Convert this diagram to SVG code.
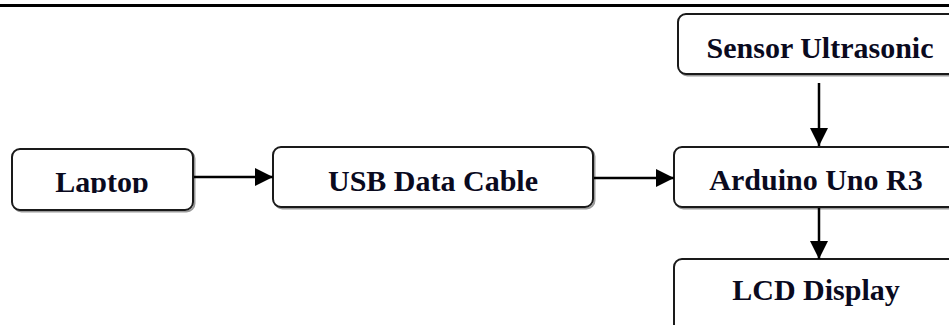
<svg xmlns="http://www.w3.org/2000/svg" width="949" height="325" viewBox="0 0 949 325">
<style>
.box{fill:#fff;stroke:#1a1a1a;stroke-width:2}
.shadow{fill:none;stroke:#9a9a9a;stroke-width:2}
.lbl{font-family:'Liberation Serif','DejaVu Serif',serif;font-weight:700;font-size:30px;fill:#0a0a1e;text-anchor:middle}
.conn{stroke:#000;stroke-width:2.5;fill:none}
</style>
<defs>
<marker id="ah" markerWidth="18" markerHeight="18" viewBox="0 0 18 18" refX="18" refY="9" orient="auto" markerUnits="userSpaceOnUse">
<path d="M0,0 L18,9 L0,18 Z" fill="#000"/>
</marker>
<clipPath id="lapclip"><rect x="0" y="140" width="260" height="53"/></clipPath>
</defs>
<rect x="0" y="4" width="949" height="3" fill="#000"/>
<g id="laptop">
<rect class="shadow" x="13.5" y="150.5" width="181" height="61" rx="8"/>
<rect class="box" x="12" y="149" width="181" height="61" rx="8"/>
<text class="lbl" x="102" y="192" clip-path="url(#lapclip)" font-family="Liberation Serif, serif">Laptop</text>
</g>
<g id="usb">
<rect class="shadow" x="274.5" y="148.5" width="320" height="60" rx="8"/>
<rect class="box" x="273" y="147" width="320" height="60" rx="8"/>
<text class="lbl" x="433" y="191" font-family="Liberation Serif, serif">USB Data Cable</text>
</g>
<g id="sensor">
<rect class="shadow" x="679.5" y="15.5" width="290" height="60" rx="8"/>
<rect class="box" x="678" y="14" width="290" height="60" rx="8"/>
<text class="lbl" x="820" y="58" font-family="Liberation Serif, serif">Sensor Ultrasonic</text>
</g>
<g id="arduino">
<rect class="shadow" x="675.5" y="148.5" width="300" height="60" rx="8"/>
<rect class="box" x="674" y="147" width="300" height="60" rx="8"/>
<text class="lbl" x="816" y="190" font-family="Liberation Serif, serif">Arduino Uno R3</text>
</g>
<g id="lcd">
<rect class="shadow" x="675.5" y="260.5" width="300" height="80" rx="8"/>
<rect class="box" x="674" y="259" width="300" height="80" rx="8"/>
<text class="lbl" x="816" y="300" font-family="Liberation Serif, serif">LCD Display</text>
</g>
<g id="connectors">
<line class="conn" x1="194" y1="177" x2="273" y2="177" marker-end="url(#ah)"/>
<line class="conn" x1="594" y1="178" x2="674" y2="178" marker-end="url(#ah)"/>
<line class="conn" x1="819" y1="83" x2="819" y2="146" marker-end="url(#ah)"/>
<line class="conn" x1="819" y1="208" x2="819" y2="259" marker-end="url(#ah)"/>
</g>
</svg>
